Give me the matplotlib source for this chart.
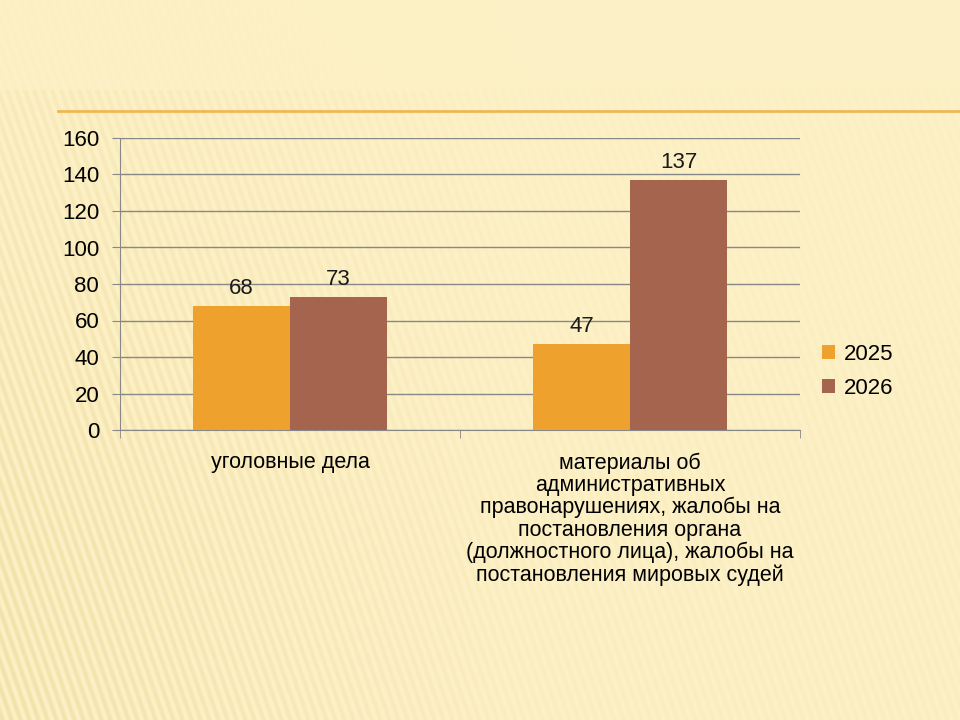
import numpy as np
import matplotlib.pyplot as plt

plt.rcParams['font.family'] = ['Liberation Sans', 'DejaVu Sans']

categories = ['уголовные дела',
              'материалы об\nадминистративных\nправонарушениях, жалобы на\n'
              'постановления органа\n(должностного лица), жалобы на\n'
              'постановления мировых судей']
series = ['2025', '2026']
values_2025 = [68, 47]
values_2026 = [73, 137]
colors = ['#EFA12E', '#A4644E']


def main():
    fig = plt.figure(figsize=(9.6, 7.2), dpi=100)

    # фон слайда: светлый градиент с косыми полосами
    bg = fig.add_axes([0, 0, 1, 1], zorder=-10)
    h, w = 720, 960
    yy, xx = np.mgrid[0:h, 0:w]
    stripes = 0.5 + 0.5 * np.sin((xx - 0.35 * yy) * 2 * np.pi / 9.0)
    fade = np.clip(1.0 - xx / 700.0, 0.25, 1.0) * np.clip(0.4 + yy / 900.0, 0, 1)
    fade[yy < 90] *= 0.3
    base = np.array([253, 241, 199]) / 255.0
    dark = np.array([235, 212, 145]) / 255.0
    k = (stripes * fade * 0.55)[..., None]
    img = base * (1 - k) + dark * k
    bg.imshow(img, aspect='auto', extent=[0, 1, 0, 1], origin='upper')
    # оранжевая линия под заголовком
    bg.plot([0.06, 1.0], [1 - 111 / 720, 1 - 111 / 720], color='#F0B04A', lw=2, alpha=0.9)
    bg.set_xlim(0, 1)
    bg.set_ylim(0, 1)
    bg.axis('off')

    ax = fig.add_axes([120 / 960, 1 - 430 / 720, 680 / 960, 292 / 720])
    ax.patch.set_alpha(0)

    x = np.arange(len(categories))
    width = 0.285
    b1 = ax.bar(x - width / 2, values_2025, width, color=colors[0], label=series[0], zorder=3)
    b2 = ax.bar(x + width / 2, values_2026, width, color=colors[1], label=series[1], zorder=3)
    for bars in (b1, b2):
        ax.bar_label(bars, padding=5, fontsize=16, color='#1a1a1a')

    ax.set_xlim(-0.5, 1.5)
    ax.set_ylim(0, 160)
    ax.set_yticks(range(0, 161, 20))
    ax.yaxis.grid(True, color='#888888', lw=1, zorder=0)
    ax.set_xticks(x)
    ax.set_xticklabels(categories, fontsize=15.5, linespacing=1.08)
    ax.tick_params(axis='x', length=0, pad=16)
    ax.set_xticks([-0.5, 0.5, 1.5], minor=True)
    ax.tick_params(axis='x', which='minor', length=6, color='#888888')
    ax.tick_params(axis='y', length=6, color='#888888', labelsize=16, pad=9)

    for s in ['top', 'right']:
        ax.spines[s].set_visible(False)
    for s in ['left', 'bottom']:
        ax.spines[s].set_color('#888888')

    ax.legend(loc='center left', bbox_to_anchor=(1.003, 0.2), frameon=False,
              fontsize=16, handlelength=0.6, handleheight=0.6, labelspacing=0.6,
              handletextpad=0.4)

    fig.savefig('out.png', dpi=100)


if __name__ == '__main__':
    main()
